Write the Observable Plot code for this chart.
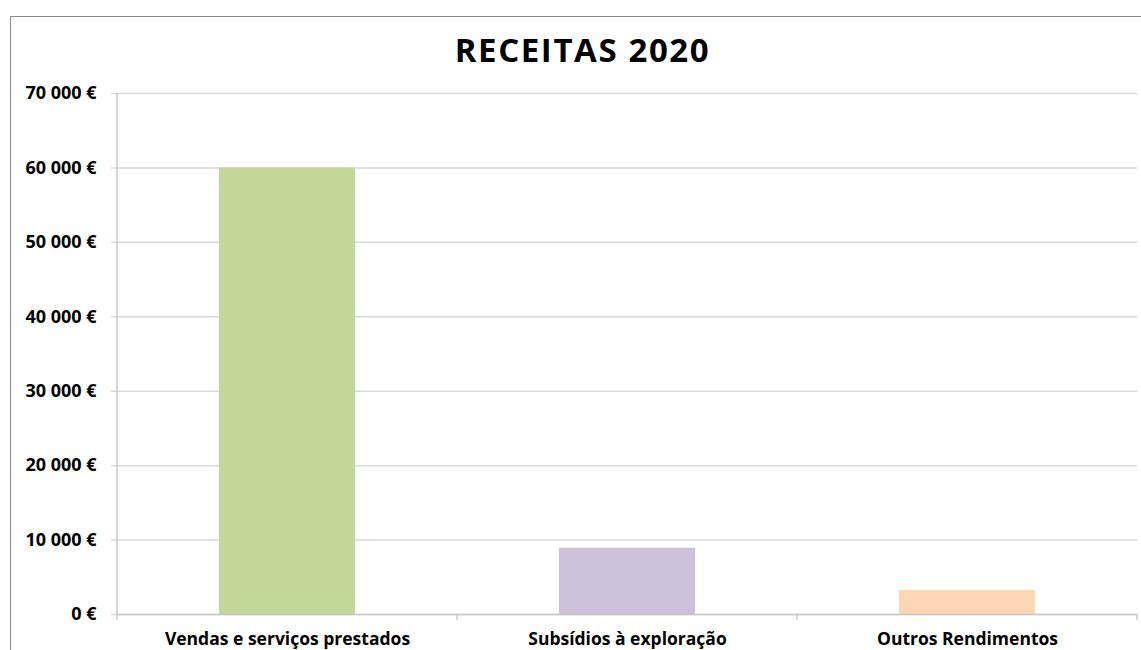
<!DOCTYPE html>
<html>
<head>
<meta charset="utf-8">
<script src="https://cdn.jsdelivr.net/npm/d3@7"></script>
<script src="https://cdn.jsdelivr.net/npm/@observablehq/plot@0.6"></script>
<style>
  html, body { margin: 0; padding: 0; background: #fff; }
  #wrap { position: relative; width: 1141px; height: 650px; overflow: hidden; font-family: "Open Sans", sans-serif; }
  #frame { position: absolute; left: 10px; top: 16px; width: 1200px; height: 700px; border-left: 1.5px solid #8c8c8c; border-top: 1.5px solid #8c8c8c; }
  #title { position: absolute; left: 0; top: 26px; width: 1165px; text-align: center; font-weight: 700; font-size: 33px; letter-spacing: 1.6px; line-height: 48px; color: #000; }
  #chart { position: absolute; left: 0; top: 0; }
</style>
</head>
<body>
<div id="wrap">
  <div id="frame"></div>
  <div id="chart"></div>
  <div id="title">RECEITAS 2020</div>
</div>
<script>
const categories = ["Vendas e serviços prestados", "Subsídios à exploração", "Outros Rendimentos"];
const values = [60000, 8900, 3200];
const colors = ["#c4d79b", "#ccc0da", "#fcd5b4"];
const yTicks = [0, 10000, 20000, 30000, 40000, 50000, 60000, 70000];

const data = categories.map((c, i) => ({category: c, value: values[i], color: colors[i]}));
const loc = d3.formatLocale({decimal: ",", thousands: " ", grouping: [3], currency: ["", " €"]});
const fmt = v => loc.format(",")(v) + " €";

const W = 1141, H = 650;
const mL = 117, mR = 4, mT = 93, mB = 36;

const plot = Plot.plot({
  width: W,
  height: H,
  marginLeft: mL,
  marginRight: mR,
  marginTop: mT,
  marginBottom: mB,
  style: {fontFamily: "Open Sans, sans-serif", background: "transparent", overflow: "visible"},
  x: {domain: categories, paddingInner: 0.6, paddingOuter: 0.3, label: null},
  y: {domain: [0, 70000], label: null},
  marks: [
    Plot.gridY(yTicks, {stroke: "#d9d9d9", strokeOpacity: 1, strokeWidth: 1.5, insetLeft: -6}),
    Plot.barY(data, {x: "category", y: "value", fill: "color"}),
    Plot.ruleY([0], {stroke: "#c8c8c8", strokeWidth: 1.5}),
    Plot.axisY(yTicks, {tickFormat: fmt, tickSize: 0, tickPadding: 21, fontSize: 18, fontWeight: 700, fill: "#000"}),
    Plot.axisX({tickSize: 0, tickPadding: 18, fontSize: 17.5, fontWeight: 700, fill: "#000", label: null})
  ]
});
document.getElementById("chart").appendChild(plot);

// Axis line and category boundary ticks, placed through the plot's own scales
const svg = d3.select(plot);
const y = plot.scale("y");
const x = plot.scale("x");
const y0 = y.apply(0), yTop = y.apply(70000);
const gap = x.step - x.bandwidth;
const g = svg.append("g").attr("stroke", "#c8c8c8").attr("stroke-width", 1.5);
g.append("line").attr("x1", mL).attr("x2", mL).attr("y1", yTop).attr("y2", y0 + 6);
categories.forEach(c => {
  const bx = x.apply(c) + x.bandwidth + gap / 2;
  g.append("line").attr("x1", bx).attr("x2", bx).attr("y1", y0).attr("y2", y0 + 6);
});
</script>
</body>
</html>
